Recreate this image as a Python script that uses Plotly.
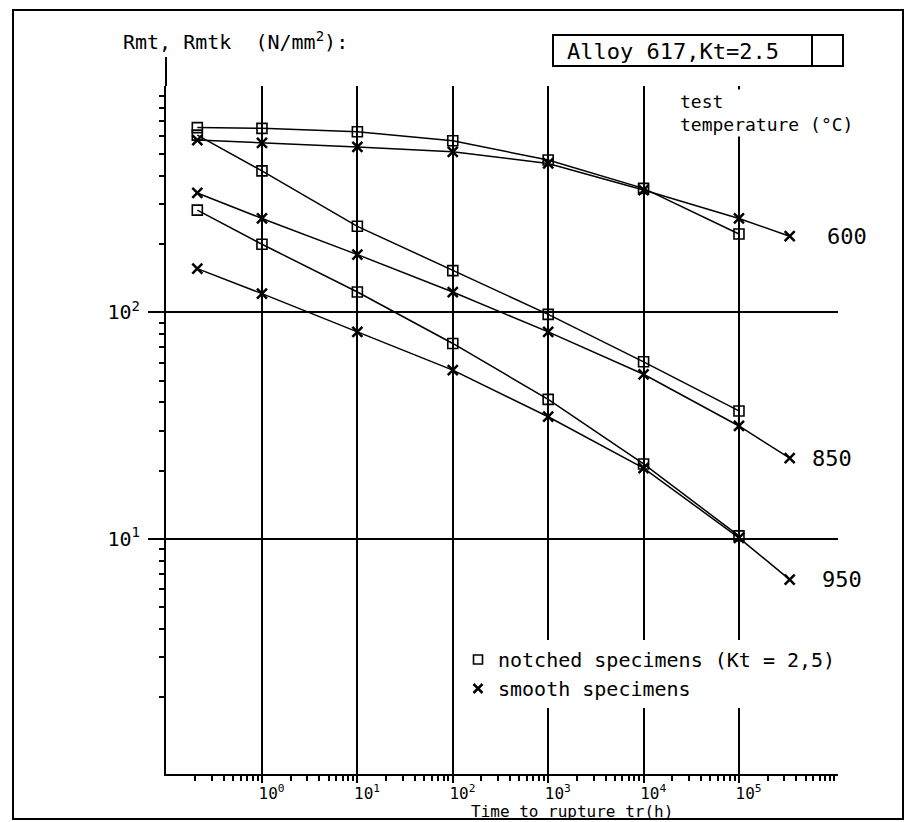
import math
import plotly.graph_objects as go

# ---------------- data ----------------
TIME_NOTCHED = [0.21, 1, 10, 100, 1000, 1e4, 1e5]
TIME_SMOOTH = [0.21, 1, 10, 100, 1000, 1e4, 1e5, 3.4e5]

NOTCHED_600 = [655, 650, 628, 573, 471, 353, 222]
SMOOTH_600 = [577, 561, 538, 512, 455, 347, 260, 217]
NOTCHED_850 = [607, 422, 240, 153, 98, 60.5, 36.7]
SMOOTH_850 = [337, 260, 180, 123, 82, 53.3, 31.5, 22.7]
NOTCHED_950 = [283, 200, 123, 72.9, 41.3, 21.4, 10.3]
SMOOTH_950 = [156, 121, 82, 55.6, 34.6, 20.5, 10.1, 6.6]

TEMPERATURES = ["600", "850", "950"]
NOTCHED = [NOTCHED_600, NOTCHED_850, NOTCHED_950]
SMOOTH = [SMOOTH_600, SMOOTH_850, SMOOTH_950]
LABEL_SHIFT = [35, 20, 30]

X_DECADES = [1, 10, 100, 1000, 1e4, 1e5]
X_TICKTEXT = ["\u00a0\u00a010<sup>0</sup>", "\u00a0\u00a010<sup>1</sup>", "\u00a0\u00a010<sup>2</sup>",
              "\u00a0\u00a010<sup>3</sup>", "\u00a0\u00a010<sup>4</sup>", "\u00a0\u00a010<sup>5</sup>"]
Y_DECADES = [10, 100]
Y_TICKTEXT = ["10<sup>1</sup>", "10<sup>2</sup>"]

FONT = "DejaVu Sans Mono"

# minor ticks
x_minor = [k * 10 ** d for d in range(-1, 6) for k in range(2, 10)]
x_minor += [1e6]
y_minor = [k * 10 ** d for d in range(0, 3) for k in range(2, 10)]

fig = go.Figure()

for temp, n, s in zip(TEMPERATURES, NOTCHED, SMOOTH):
    fig.add_trace(go.Scatter(
        x=TIME_NOTCHED, y=n, mode="lines+markers", showlegend=False,
        line=dict(color="black", width=1.5),
        marker=dict(symbol="square-open", size=10, color="black", line=dict(width=1.6)),
        name=f"notched {temp}"))
    fig.add_trace(go.Scatter(
        x=TIME_SMOOTH, y=s, mode="lines+markers", showlegend=False,
        line=dict(color="black", width=1.5),
        marker=dict(symbol="x-thin", size=10, color="black", line=dict(width=2.5, color="black")),
        name=f"smooth {temp}"))

# legend-only entries
fig.add_trace(go.Scatter(x=[None], y=[None], mode="markers", name="notched specimens (Kt = 2,5)",
                         marker=dict(symbol="square-open", size=9, color="black", line=dict(width=1.6))))
fig.add_trace(go.Scatter(x=[None], y=[None], mode="markers", name="smooth specimens",
                         marker=dict(symbol="x-thin", size=9, color="black",
                                     line=dict(width=2.5, color="black"))))

# geometry helpers (pixels -> paper)
L, R, T, B = 166, 69, 86, 48
W, H = 907, 822
PW, PH = W - L - R, H - T - B


def px(x):
    return (x - L) / PW


def py(y):
    return (H - B - y) / PH


annotations = []
for temp, s, sh in zip(TEMPERATURES, SMOOTH, LABEL_SHIFT):
    annotations.append(dict(x=math.log10(TIME_SMOOTH[-1]), y=math.log10(s[-1]), xref="x", yref="y",
                            text=temp, showarrow=False, xanchor="left", yanchor="middle", xshift=sh,
                            font=dict(family=FONT, size=22, color="black")))

annotations += [
    dict(x=px(121), y=py(41), xref="paper", yref="paper",
         text="Rmt, Rmtk\u00a0\u00a0(N/mm<sup>2</sup>):",
         showarrow=False, xanchor="left", yanchor="middle", font=dict(family=FONT, size=20, color="black")),
    dict(x=px(565), y=py(51), xref="paper", yref="paper", text="Alloy 617,Kt=2.5",
         showarrow=False, xanchor="left", yanchor="middle", font=dict(family=FONT, size=22, color="black")),
    dict(x=px(678), y=py(113), xref="paper", yref="paper", text="test<br>temperature (°C)",
         showarrow=False, xanchor="left", yanchor="middle", align="left", bgcolor="white",
         font=dict(family=FONT, size=18, color="black")),
    dict(x=px(572), y=py(811), xref="paper", yref="paper", text="Time to rupture tr(h)",
         showarrow=False, xanchor="center", yanchor="middle", font=dict(family=FONT, size=16, color="black")),
]

shapes = [
    # outer frame
    dict(type="rect", xref="paper", yref="paper", x0=px(13), x1=px(903), y0=py(819), y1=py(10),
         line=dict(color="black", width=2)),
    # title box
    dict(type="rect", xref="paper", yref="paper", x0=px(553), x1=px(843), y0=py(66), y1=py(35),
         line=dict(color="black", width=2)),
    dict(type="line", xref="paper", yref="paper", x0=px(812), x1=px(812), y0=py(66), y1=py(35),
         line=dict(color="black", width=2)),
    # y axis line extension above 10^3
    dict(type="line", xref="paper", yref="paper", x0=0, x1=0, y0=1, y1=py(57),
         line=dict(color="black", width=2)),
]

fig.update_layout(
    width=W, height=H,
    margin=dict(l=L, r=R, t=T, b=B),
    paper_bgcolor="white", plot_bgcolor="white",
    font=dict(family=FONT, color="black"),
    annotations=annotations,
    shapes=shapes,
    legend=dict(x=px(458), y=py(640), xanchor="left", yanchor="top", bgcolor="white",
                font=dict(family=FONT, size=20, color="black"), tracegroupgap=0,
                itemwidth=30),
)

fig.update_xaxes(
    type="log", range=[-1.006, 6.038],
    showline=True, linecolor="black", linewidth=2,
    showgrid=True, gridcolor="black", gridwidth=2,
    tickmode="array", tickvals=X_DECADES, ticktext=X_TICKTEXT,
    ticks="outside", ticklen=7, tickwidth=2, tickcolor="black",
    tickfont=dict(family=FONT, size=16, color="black"),
    ticklabelstandoff=-3,
    minor=dict(tickmode="array", tickvals=x_minor, ticks="outside", ticklen=5,
               tickwidth=1.5, tickcolor="black", showgrid=False),
    zeroline=False,
)
fig.update_yaxes(
    type="log", range=[-0.039, 3.0],
    showline=True, linecolor="black", linewidth=2,
    showgrid=True, gridcolor="black", gridwidth=2,
    tickmode="array", tickvals=Y_DECADES, ticktext=Y_TICKTEXT,
    ticks="outside", ticklen=16, tickwidth=2, tickcolor="black",
    tickfont=dict(family=FONT, size=20, color="black"),
    ticklabelstandoff=4,
    minor=dict(tickmode="array", tickvals=y_minor, ticks="outside", ticklen=5,
               tickwidth=1.5, tickcolor="black", showgrid=False),
    zeroline=False,
)

fig.write_html("out.html")
